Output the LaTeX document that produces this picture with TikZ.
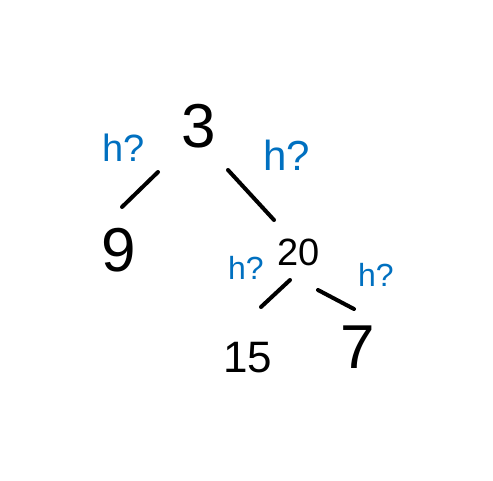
\documentclass[tikz,border=0pt]{standalone}
\usepackage{fontspec}
\setmainfont{Liberation Sans}
\definecolor{hblue}{RGB}{0,112,192}
\begin{document}
\begin{tikzpicture}[x=1pt,y=-1pt,
  num/.style={inner sep=0pt,text=black},
  hq/.style={inner sep=0pt,text=hblue,font=\fontsize{38}{38}\selectfont},
  edge/.style={line width=4pt,line cap=round,black}]
\useasboundingbox[fill=white] (0,0) rectangle (493,480);
\node[num,font=\fontsize{62}{62}\selectfont] (n3) at (199,126) {3};
\node[num,font=\fontsize{62}{62}\selectfont] (n9) at (119,250) {9};
\node[num,font=\fontsize{38}{38}\selectfont] (n20) at (299,252) {20};
\node[num,font=\fontsize{44}{44}\selectfont] (n15) at (248,358) {15};
\node[num,font=\fontsize{62}{62}\selectfont] (n7) at (358,347) {7};
\node[hq] (h1) at (124,148) {h?};
\node[hq,font=\fontsize{42}{42}\selectfont] (h2) at (287,155) {h?};
\node[hq,font=\fontsize{32}{32}\selectfont] (h3) at (246,268) {h?};
\node[hq,font=\fontsize{32}{32}\selectfont] (h4) at (376,275) {h?};
\coordinate (a1) at (158,172); \coordinate (b1) at (122,207);
\coordinate (a2) at (228,170); \coordinate (b2) at (274,220);
\coordinate (a3) at (290,280); \coordinate (b3) at (261,307);
\coordinate (a4) at (318,290); \coordinate (b4) at (354,309);
\draw[edge] (a1) -- (b1);
\draw[edge] (a2) -- (b2);
\draw[edge] (a3) -- (b3);
\draw[edge] (a4) -- (b4);
\end{tikzpicture}
\end{document}
